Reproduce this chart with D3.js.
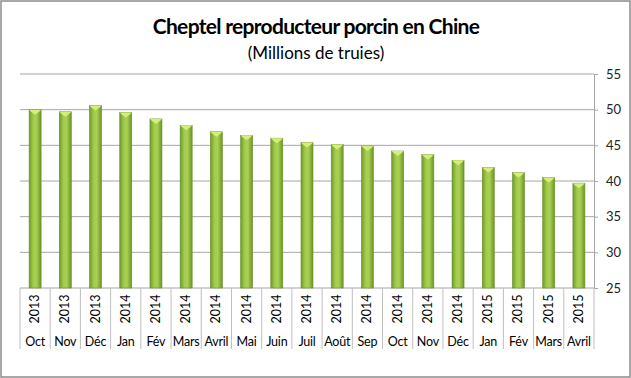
<!DOCTYPE html>
<html>
<head>
<meta charset="utf-8">
<script src="https://cdn.jsdelivr.net/npm/d3@7"></script>
<style>
  body { margin: 0; background: #fff; }
  svg { display: block; font-family: Lato, "Open Sans", sans-serif; }
</style>
</head>
<body>
<svg width="631" height="378"></svg>
<script>
const months = ["Oct", "Nov", "Déc", "Jan", "Fév", "Mars", "Avril", "Mai", "Juin", "Juil", "Août", "Sep", "Oct", "Nov", "Déc", "Jan", "Fév", "Mars", "Avril"];
const years = ["2013", "2013", "2013", "2014", "2014", "2014", "2014", "2014", "2014", "2014", "2014", "2014", "2014", "2014", "2014", "2015", "2015", "2015", "2015"];
const values = [50.0, 49.7, 50.6, 49.6, 48.7, 47.8, 46.9, 46.4, 46.0, 45.4, 45.1, 44.9, 44.2, 43.7, 42.9, 41.9, 41.2, 40.5, 39.7];
const yTicks = [25, 30, 35, 40, 45, 50, 55];

const svg = d3.select("svg");
const plotL = 20, plotR = 594, plotT = 74, plotB = 288;

// frame
svg.append("rect")
  .attr("x", 1).attr("y", 1)
  .attr("width", 629).attr("height", 376)
  .attr("fill", "#fff")
  .attr("stroke", "#8c8c8c")
  .attr("stroke-width", 1.5);

svg.append("text")
  .attr("x", 316).attr("y", 34)
  .attr("text-anchor", "middle")
  .attr("font-size", 21).attr("font-weight", "bold")
  .attr("letter-spacing", -0.7)
  .attr("fill", "#000")
  .text("Cheptel reproducteur porcin en Chine");

svg.append("text")
  .attr("x", 316).attr("y", 59)
  .attr("text-anchor", "middle")
  .attr("font-size", 17)
  .attr("fill", "#000")
  .text("(Millions de truies)");

const idx = d3.range(values.length);
const x = d3.scaleBand().domain(idx).range([plotL, plotR]).paddingInner(0).paddingOuter(0);
const y = d3.scaleLinear().domain([25, 55]).range([plotB, plotT]);

// gridlines
svg.append("g")
  .selectAll("line")
  .data(yTicks)
  .enter().append("line")
  .attr("x1", plotL).attr("x2", plotR)
  .attr("y1", d => y(d)).attr("y2", d => y(d))
  .attr("stroke", "#a6a6a6")
  .attr("stroke-width", 1);

// right axis
const yAxis = svg.append("g")
  .attr("transform", `translate(${plotR},0)`)
  .call(d3.axisRight(y).tickValues(yTicks).tickSize(4).tickPadding(8));
yAxis.select(".domain").attr("stroke", "#a6a6a6");
yAxis.selectAll(".tick line").attr("stroke", "#a6a6a6");
yAxis.selectAll(".tick text").attr("font-size", 13).attr("fill", "#222").attr("font-family", "Lato, sans-serif");

// bar gradient
const defs = svg.append("defs");
const grad = defs.append("linearGradient").attr("id", "barGrad")
  .attr("x1", "0%").attr("x2", "100%").attr("y1", "0%").attr("y2", "0%");
grad.append("stop").attr("offset", "0%").attr("stop-color", "#6f9a2a");
grad.append("stop").attr("offset", "35%").attr("stop-color", "#a3cc4c");
grad.append("stop").attr("offset", "60%").attr("stop-color", "#a8d153");
grad.append("stop").attr("offset", "100%").attr("stop-color", "#6c9428");

const bw = 12;
const bars = svg.append("g")
  .selectAll("g")
  .data(idx)
  .enter().append("g");

bars.append("rect")
  .attr("x", i => x(i) + x.bandwidth() / 2 - bw / 2)
  .attr("y", i => y(values[i]))
  .attr("width", bw)
  .attr("height", i => plotB - y(values[i]))
  .attr("fill", "url(#barGrad)")
  .attr("stroke", "#6a8f2a")
  .attr("stroke-width", 0.6);

// top bevel
bars.append("path")
  .attr("d", i => {
    const x0 = x(i) + x.bandwidth() / 2 - bw / 2, t = y(values[i]);
    return `M${x0},${t}L${x0 + bw},${t}L${x0 + bw - 2},${t + 2}L${x0 + bw / 2},${t + 5}L${x0 + 2},${t + 2}Z`;
  })
  .attr("fill", "#d4ee7a");

// category separators
svg.append("g")
  .selectAll("line")
  .data(d3.range(values.length + 1))
  .enter().append("line")
  .attr("x1", i => plotL + i * x.step()).attr("x2", i => plotL + i * x.step())
  .attr("y1", plotB).attr("y2", 349)
  .attr("stroke", "#bfbfbf");

// year labels (rotated)
svg.append("g")
  .selectAll("text")
  .data(idx)
  .enter().append("text")
  .attr("transform", i => `translate(${x(i) + x.bandwidth() / 2 + 4},309) rotate(-90)`)
  .attr("text-anchor", "middle")
  .attr("font-size", 12.5)
  .attr("fill", "#000")
  .text(i => years[i]);

// month labels
svg.append("g")
  .selectAll("text")
  .data(idx)
  .enter().append("text")
  .attr("x", i => x(i) + x.bandwidth() / 2)
  .attr("y", 346)
  .attr("text-anchor", "middle")
  .attr("font-size", 12.5)
  .attr("letter-spacing", -0.2)
  .attr("fill", "#000")
  .text(i => months[i]);
</script>
</body>
</html>
